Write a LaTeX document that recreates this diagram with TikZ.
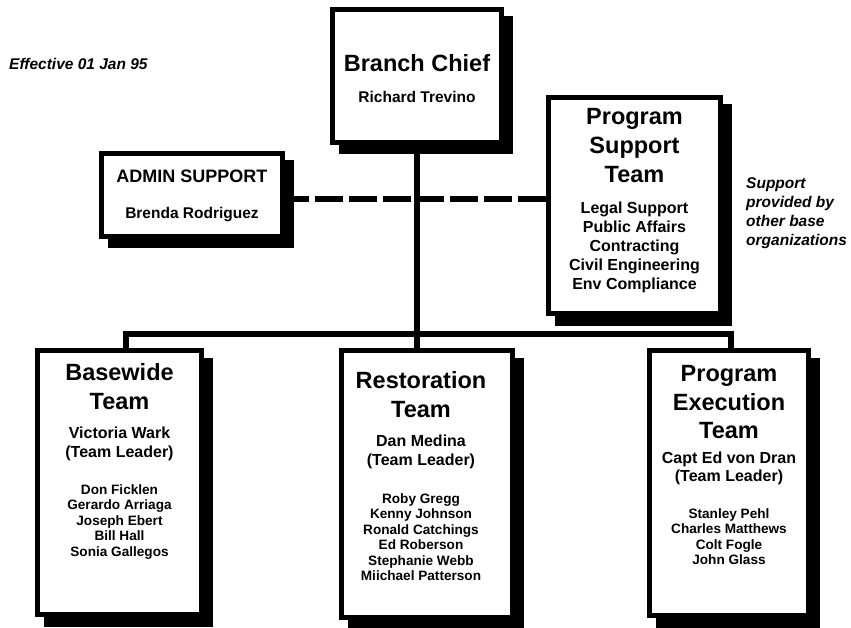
\documentclass[tikz,border=0pt]{standalone}
\usepackage{fontspec}
\setmainfont{Liberation Sans}
\usetikzlibrary{positioning,shadows}

\begin{document}
\begin{tikzpicture}[x=1pt, y=-1pt,
		box/.style={draw, line width=5pt, fill=white, inner sep=0pt, outer sep=0pt,
			drop shadow={shadow xshift=9pt, shadow yshift=-9.5pt, opacity=1, fill=black, draw=black, line width=5pt}},
		title/.style={inner sep=0pt, align=center, font=\bfseries\fontsize{23.5}{29}\selectfont},
		lead/.style={inner sep=0pt, align=center, font=\bfseries\fontsize{16}{19}\selectfont},
		crew/.style={inner sep=0pt, align=center, font=\bfseries\fontsize{13.6}{15.5}\selectfont},
		note/.style={inner sep=0pt, align=left, font=\bfseries\itshape\fontsize{15.5}{19}\selectfont},
		wire/.style={line width=6pt},
		dashwire/.style={line width=6pt, dash pattern=on 28pt off 5.83pt, dash phase=1.33pt}]
				\useasboundingbox (0,0) rectangle (851,628);
				\node[note, anchor=base west] (date) at (9,70) {Effective 01 Jan 95};
				\node[box, minimum width=169pt, minimum height=133pt] (chief) at (417,76) {};
				\node[title, below=45pt of chief.north] (chiefhead) {Branch Chief};
				\node[lead, font=\bfseries\fontsize{15.5}{19}\selectfont, below=18.7pt of chiefhead] (chiefname) {Richard Trevino};
				\node[box, minimum width=181pt, minimum height=83pt] (admin) at (192,195) {};
				\node[lead, font=\bfseries\fontsize{18}{22}\selectfont, below=16.5pt of admin.north] (adminhead) {ADMIN SUPPORT};
				\node[lead, font=\bfseries\fontsize{15.5}{19}\selectfont, below=23.7pt of adminhead] (adminname) {Brenda Rodriguez};
				\node[box, minimum width=172pt, minimum height=216pt] (support) at (634.5,205.5) {};
				\node[title, below=10.7pt of support.north] (supporthead) {Program\\Support\\Team};
				\node[lead, below=18.3pt of supporthead] (supportlist) {Legal Support\\Public Affairs\\Contracting\\Civil Engineering\\Env Compliance};
				\node[note, anchor=north west] (others) at (746,177.7) {Support\\provided by\\other base\\organizations};
				\node[box, minimum width=164pt, minimum height=264pt] (base) at (119.5,482.5) {};
				\node[title, below=12.4pt of base.north] (basehead) {Basewide\\Team};
				\node[lead, below=17.3pt of basehead] (baselead) {Victoria Wark\\(Team Leader)};
				\node[crew, below=22.8pt of baselead] (basecrew) {Don Ficklen\\Gerardo Arriaga\\Joseph Ebert\\Bill Hall\\Sonia Gallegos};
				\node[box, minimum width=171pt, minimum height=267pt] (resto) at (427,484) {};
				\node[title, below=20.7pt of resto.north, xshift=-6pt] (restohead) {Restoration\\Team};
				\node[lead, below=17.3pt of restohead] (restolead) {Dan Medina\\(Team Leader)};
				\node[crew, below=23.6pt of restolead] (restocrew) {Roby Gregg\\Kenny Johnson\\Ronald Catchings\\Ed Roberson\\Stephanie Webb\\Miichael Patterson};
				\node[box, minimum width=159pt, minimum height=265pt] (exec) at (729,483) {};
				\node[title, font=\bfseries\fontsize{23.5}{28.5}\selectfont, below=14.7pt of exec.north] (exechead) {Program\\Execution\\Team};
				\node[lead, font=\bfseries\fontsize{16}{18}\selectfont, below=12.3pt of exechead] (execlead) {Capt Ed von Dran\\(Team Leader)};
				\node[crew, below=23.8pt of execlead] (execcrew) {Stanley Pehl\\Charles Matthews\\Colt Fogle\\John Glass};
				\coordinate (busL) at (125.5,334);
				\coordinate (busR) at (730.5,334);
				\draw[wire, line cap=rect] (busL) -- (busR);
				\draw[wire] (chief.south) -- (chief.south |- resto.north);
				\draw[wire] (busL) -- (busL |- base.north);
				\draw[wire] (busR) -- (busR |- exec.north);
				\draw[dashwire] ([yshift=-4pt]admin.east) -- ([yshift=-4pt]admin.east -| support.west);
			\end{tikzpicture}
\end{document}
